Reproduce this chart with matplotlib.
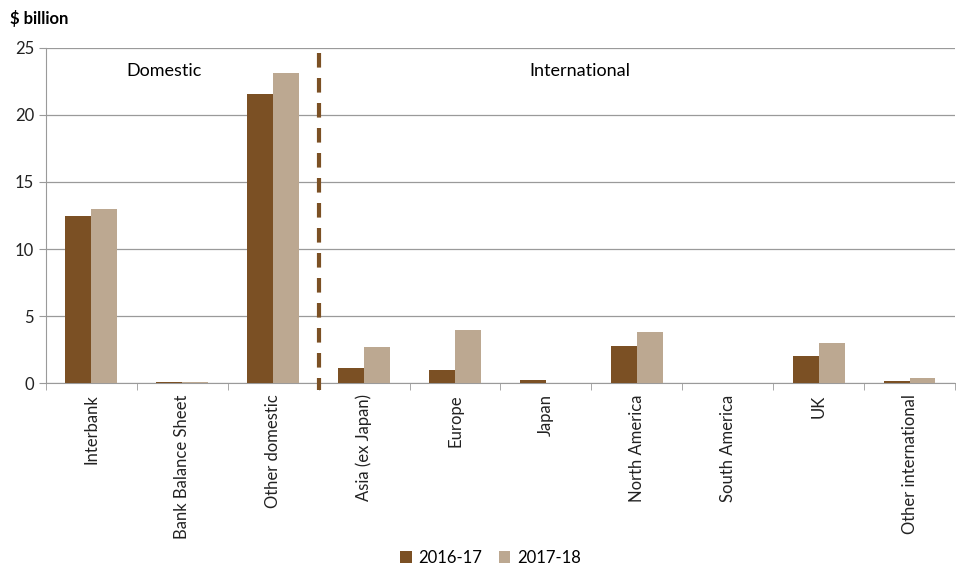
import numpy as np
import matplotlib.pyplot as plt

plt.rcParams['font.family'] = ['Lato', 'DejaVu Sans']

# Данные
categories = ["Interbank", "Bank Balance Sheet", "Other domestic", "Asia (ex Japan)",
              "Europe", "Japan", "North America", "South America", "UK",
              "Other international"]
fy2017 = [12.45, 0.12, 21.55, 1.15, 1.0, 0.27, 2.75, 0.0, 2.05, 0.15]
fy2018 = [12.95, 0.08, 23.15, 2.7, 3.98, 0.0, 3.85, 0.0, 3.02, 0.4]
series_names = ["2016-17", "2017-18"]

dark = "#7B5024"
light = "#BCA891"

fig = plt.figure(figsize=(9.56, 5.65), dpi=100)
ax = fig.add_axes([0.048, 0.3216, 0.951, 0.594])

x = np.arange(len(categories))
w = 0.285
ax.bar(x - w / 2, fy2017, w, color=dark, label=series_names[0], zorder=3)
ax.bar(x + w / 2, fy2018, w, color=light, label=series_names[1], zorder=3)

ax.set_xlim(-0.5, len(categories) - 0.5)
ax.set_ylim(0, 25)
ax.set_yticks([0, 5, 10, 15, 20, 25])
ax.yaxis.grid(True, color="#9a9a9a", linewidth=0.9, zorder=0)

# Подписи категорий
ax.set_xticks(x)
ax.set_xticklabels(categories, rotation=90, fontsize=12, color="#222222")
ax.tick_params(axis="x", length=0, pad=8)
ax.set_xticks(np.arange(-0.5, len(categories)), minor=True)
ax.tick_params(axis="x", which="minor", length=5, color="#9a9a9a")
ax.tick_params(axis="y", labelsize=12, length=5, color="#9a9a9a", labelcolor="#222222")

for s in ["top", "right"]:
    ax.spines[s].set_visible(False)
ax.spines["left"].set_color("#9a9a9a")
ax.spines["bottom"].set_color("#9a9a9a")

# Разделитель
ax.plot([2.5, 2.5], [24.6, -0.5], linestyle=(0, (3.5, 2.5)), color=dark,
        linewidth=3, clip_on=False, zorder=4)
ax.text(0.8, 23.3, "Domestic", fontsize=13, ha="center", va="center")
ax.text(5.37, 23.3, "International", fontsize=13, ha="center", va="center")

fig.text(0.01, 0.968, "$ billion", fontsize=12, fontweight="bold", va="center")

fig.legend(loc="center", bbox_to_anchor=(0.513, 0.013), ncol=2, frameon=False,
           fontsize=12, handlelength=0.7, handleheight=0.7, columnspacing=1.0,
           handletextpad=0.4)

fig.savefig("out.png", dpi=100)
